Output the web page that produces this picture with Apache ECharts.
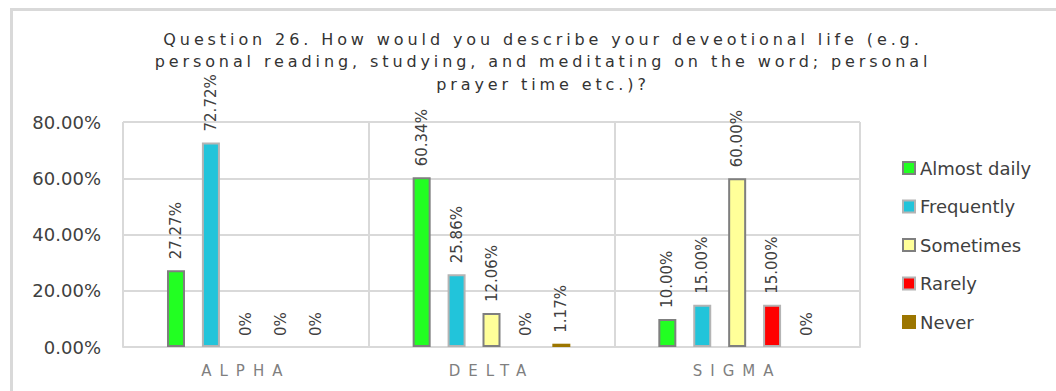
<!DOCTYPE html>
<html>
<head>
<meta charset="utf-8">
<script src="https://cdn.jsdelivr.net/npm/echarts@6/dist/echarts.min.js"></script>
<style>
  html, body { margin: 0; padding: 0; background: #ffffff; }
  #chart { width: 1056px; height: 391px; }
  /* tracked lettering for the title and the group names */
  #chart text[style*="spacedTitle"] { letter-spacing: 3.9px; }
  #chart text[style*="spacedAxis"] { letter-spacing: 8px; }
</style>
</head>
<body>
<div id="chart"></div>
<script>
// Groups and answer shares (percent)
const categories = ['ALPHA', 'DELTA', 'SIGMA'];
const almostDaily = [27.27, 60.34, 10.00];
const frequently  = [72.72, 25.86, 15.00];
const sometimes   = [0, 12.06, 60.00];
const rarely      = [0, 0, 15.00];
const never       = [0, 1.17, 0];

const seriesNames = ['Almost daily', 'Frequently', 'Sometimes', 'Rarely', 'Never'];
const seriesData = [almostDaily, frequently, sometimes, rarely, never];
const fills   = ['#22ff22', '#22c4da', '#ffff99', '#ff0000', '#9c7600'];
const borders = ['#7f7f7f', '#b4b4b4', '#7f7f7f', '#b4b4b4', '#9c7600'];

const titleText = 'Question 26. How would you describe your deveotional life (e.g.\n' +
  'personal reading, studying, and meditating on the word; personal\n' +
  'prayer time etc.)?';

const FONT = "'DejaVu Sans'";

const chart = echarts.init(document.getElementById('chart'), null, { renderer: 'svg' });

// zero-height bars get no outline so only their label shows
const toItems = values => values.map(v => v === 0
  ? { value: v, itemStyle: { borderWidth: 0, borderColor: 'rgba(0,0,0,0)' } }
  : v);

chart.setOption({
  animation: false,
  backgroundColor: '#ffffff',
  title: {
    text: titleText,
    left: 538,
    top: 23,
    textAlign: 'center',
    textStyle: {
      fontFamily: FONT + ', spacedTitle',
      fontSize: 16,
      fontWeight: 'normal',
      color: '#333333',
      lineHeight: 22.5
    }
  },
  graphic: [{
    type: 'rect',
    shape: { x: 11.5, y: 9.5, width: 1200, height: 600 },
    style: { fill: 'none', stroke: '#d9d9d9', lineWidth: 3 },
    silent: true
  }],
  legend: {
    orient: 'vertical',
    left: 902,
    top: 159,
    padding: 0,
    itemWidth: 12,
    itemHeight: 12,
    itemGap: 20.5,
    icon: 'rect',
    textStyle: { fontFamily: FONT, fontSize: 18, color: '#404040' },
    data: seriesNames.map((name, i) => ({
      name: name,
      itemStyle: { color: fills[i], borderColor: borders[i], borderWidth: 2 }
    }))
  },
  grid: { left: 123, right: 196, top: 122, bottom: 44 },
  xAxis: {
    type: 'category',
    data: categories,
    axisTick: { show: false },
    axisLine: { show: true, lineStyle: { color: '#d9d9d9', width: 2 } },
    axisLabel: {
      margin: 16,
      fontFamily: FONT + ', spacedAxis',
      fontSize: 15,
      color: '#7f7f7f'
    },
    splitLine: { show: true, interval: 0, lineStyle: { color: '#d9d9d9', width: 2 } }
  },
  yAxis: {
    type: 'value',
    min: 0,
    max: 80,
    interval: 20,
    axisLine: { show: false },
    axisTick: { show: false },
    axisLabel: {
      margin: 22,
      fontFamily: FONT,
      fontSize: 18,
      color: '#404040',
      formatter: v => v.toFixed(2) + '%'
    },
    splitLine: { lineStyle: { color: '#d9d9d9', width: 2 } }
  },
  series: seriesNames.map((name, i) => ({
    name: name,
    type: 'bar',
    data: toItems(seriesData[i]),
    barWidth: 18,
    barGap: '94%',
    itemStyle: { color: fills[i], borderColor: borders[i], borderWidth: 2 },
    label: {
      show: true,
      position: 'top',
      distance: 11,
      rotate: 90,
      align: 'left',
      verticalAlign: 'middle',
      fontFamily: FONT,
      fontSize: 15,
      color: '#404040',
      formatter: p => p.value === 0 ? '0%' : p.value.toFixed(2) + '%'
    }
  }))
});
</script>
</body>
</html>
